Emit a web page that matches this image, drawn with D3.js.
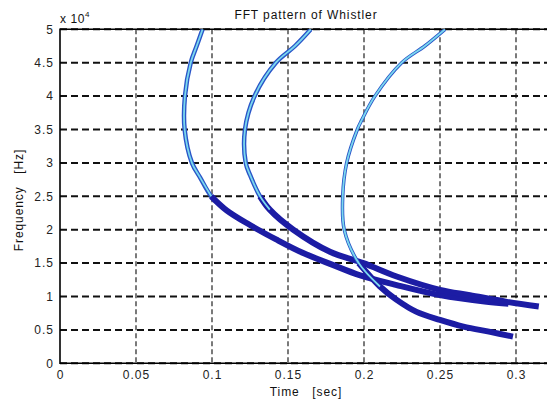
<!DOCTYPE html>
<html>
<head>
<meta charset="utf-8">
<script src="https://cdn.jsdelivr.net/npm/d3@7"></script>
<style>
  body { margin: 0; background: #fff; }
  text { font-family: "Liberation Sans", Arial, sans-serif; }
</style>
</head>
<body>
<script>
// axis ticks
const timeTicks = [0, 0.05, 0.1, 0.15, 0.2, 0.25, 0.3];
const freqTicks = [0, 0.5, 1, 1.5, 2, 2.5, 3, 3.5, 4, 4.5, 5]; // x 10^4 Hz

// whistler traces (time in sec, frequency in 10^4 Hz)
const w1Time = [0.0938, 0.0899, 0.0860, 0.0822, 0.0820, 0.0868, 0.0922, 0.0995, 0.1096, 0.125, 0.1425, 0.160, 0.1798, 0.197, 0.2215, 0.25, 0.2807, 0.295];
const w1Freq = [5.0, 4.75, 4.5, 4.0, 3.5, 3.0, 2.78, 2.5, 2.29, 2.07, 1.85, 1.65, 1.47, 1.32, 1.17, 1.02, 0.92, 0.89];

const w2Time = [0.165, 0.1546, 0.142, 0.128, 0.1217, 0.1222, 0.125, 0.1316, 0.138, 0.1535, 0.1776, 0.1996, 0.2215, 0.25, 0.2697, 0.294, 0.315];
const w2Freq = [5.0, 4.75, 4.5, 4.0, 3.5, 3.0, 2.82, 2.5, 2.3, 2.0, 1.67, 1.5, 1.3, 1.1, 1.02, 0.92, 0.85];

const w3Time = [0.2533, 0.240, 0.2248, 0.2072, 0.1985, 0.1956, 0.1886, 0.186, 0.187, 0.1965, 0.2105, 0.2215, 0.2346, 0.25, 0.2654, 0.283, 0.298];
const w3Freq = [5.0, 4.75, 4.5, 4.0, 3.64, 3.5, 3.0, 2.5, 2.0, 1.5, 1.15, 0.95, 0.77, 0.65, 0.55, 0.47, 0.40];

// where the strong (dark) part starts and where the fitted cyan line stops
const darkBelow = [2.6, 2.55, 1.5];
const cyanAbove = [2.5, 2.3, 1.1];

const w = 547;
const h = 404;
const padLeft = 60, padTop = 29.3, padBottom = 363.3, padRight = 546.4;

const svg = d3.select("body")
  .append("svg")
  .attr("width", w)
  .attr("height", h);

const x = d3.scaleLinear().domain([0, 0.32]).range([padLeft, padRight]);
const y = d3.scaleLinear().domain([0, 5]).range([padBottom, padTop]);

svg.append("defs").append("clipPath")
  .attr("id", "plot")
  .append("rect")
  .attr("x", padLeft)
  .attr("y", padTop)
  .attr("width", w - padLeft)
  .attr("height", padBottom - padTop);

// grid
const grid = svg.append("g");
grid.selectAll("line.v")
  .data(timeTicks.slice(1))
  .enter()
  .append("line")
  .attr("class", "v")
  .attr("x1", d => x(d)).attr("x2", d => x(d))
  .attr("y1", padTop).attr("y2", padBottom)
  .attr("stroke", "#333")
  .attr("stroke-width", 1.3)
  .attr("stroke-dasharray", "5,3");

grid.selectAll("line.h")
  .data(freqTicks)
  .enter()
  .append("line")
  .attr("class", "h")
  .attr("x1", padLeft).attr("x2", w)
  .attr("y1", d => y(d)).attr("y2", d => y(d))
  .attr("stroke", "#111")
  .attr("stroke-width", 2)
  .attr("stroke-dasharray", "7,4");

// frame (right side is cut off in the picture)
svg.append("path")
  .attr("d", `M${w},${padTop}H${padLeft}V${padBottom}H${w}`)
  .attr("fill", "none")
  .attr("stroke", "#000")
  .attr("stroke-width", 1.6);

// tick labels
const xAxis = d3.axisBottom(x).tickValues(timeTicks).tickSize(0).tickPadding(7)
  .tickFormat(d => d === 0 ? "0" : d3.format("~g")(d));
svg.append("g")
  .attr("transform", `translate(0,${padBottom})`)
  .call(xAxis)
  .call(g => g.select(".domain").remove())
  .selectAll("text")
  .style("font-size", "12px")
  .style("letter-spacing", "1px")
  .attr("fill", "#222");

const yAxis = d3.axisLeft(y).tickValues(freqTicks).tickSize(0).tickPadding(6)
  .tickFormat(d3.format("~g"));
svg.append("g")
  .attr("transform", `translate(${padLeft},0)`)
  .call(yAxis)
  .call(g => g.select(".domain").remove())
  .selectAll("text")
  .style("font-size", "12px")
  .style("letter-spacing", "1px")
  .attr("fill", "#222");

// traces
const line = d3.line()
  .x(d => x(d[0]))
  .y(d => y(d[1]))
  .curve(d3.curveCatmullRom.alpha(0.5));

const traces = [
  d3.zip(w1Time, w1Freq),
  d3.zip(w2Time, w2Freq),
  d3.zip(w3Time, w3Freq)
];

const curves = svg.append("g").attr("clip-path", "url(#plot)");

traces.forEach((pts, i) => {
  const upper = pts.filter(p => p[1] >= darkBelow[i] - 0.35);
  const lower = pts.filter(p => p[1] <= darkBelow[i]);
  const fit = pts.filter(p => p[1] >= cyanAbove[i]);

  curves.append("path")
    .attr("d", line(upper))
    .attr("fill", "none")
    .attr("stroke", "#2a55c8")
    .attr("stroke-width", i === 2 ? 3.5 : 4.5);

  curves.append("path")
    .attr("d", line(lower))
    .attr("fill", "none")
    .attr("stroke", "#1c1ca4")
    .attr("stroke-width", 6);

  curves.append("path")
    .attr("d", line(fit))
    .attr("fill", "none")
    .attr("stroke", "#7ad8ee")
    .attr("stroke-width", 1.8);
});

// titles
svg.append("text")
  .attr("x", 306)
  .attr("y", 19)
  .attr("text-anchor", "middle")
  .attr("fill", "#111")
  .style("font-size", "12px")
  .style("letter-spacing", "0.9px")
  .text("FFT pattern of Whistler");

const exp = svg.append("text")
  .attr("x", 60)
  .attr("y", 23)
  .attr("fill", "#111")
  .style("font-size", "12px")
  .style("letter-spacing", "0.6px");
exp.append("tspan").text("x 10");
exp.append("tspan").attr("dy", -6).style("font-size", "8px").text("4");

svg.append("text")
  .attr("x", 306)
  .attr("y", 396)
  .attr("text-anchor", "middle")
  .attr("fill", "#111")
  .style("font-size", "12px")
  .style("letter-spacing", "0.9px")
  .attr("xml:space", "preserve")
  .text("Time   [sec]");

svg.append("text")
  .attr("transform", "translate(23,200) rotate(-90)")
  .attr("text-anchor", "middle")
  .attr("fill", "#111")
  .style("font-size", "12px")
  .style("letter-spacing", "0.9px")
  .attr("xml:space", "preserve")
  .text("Frequency   [Hz]");
</script>
</body>
</html>
